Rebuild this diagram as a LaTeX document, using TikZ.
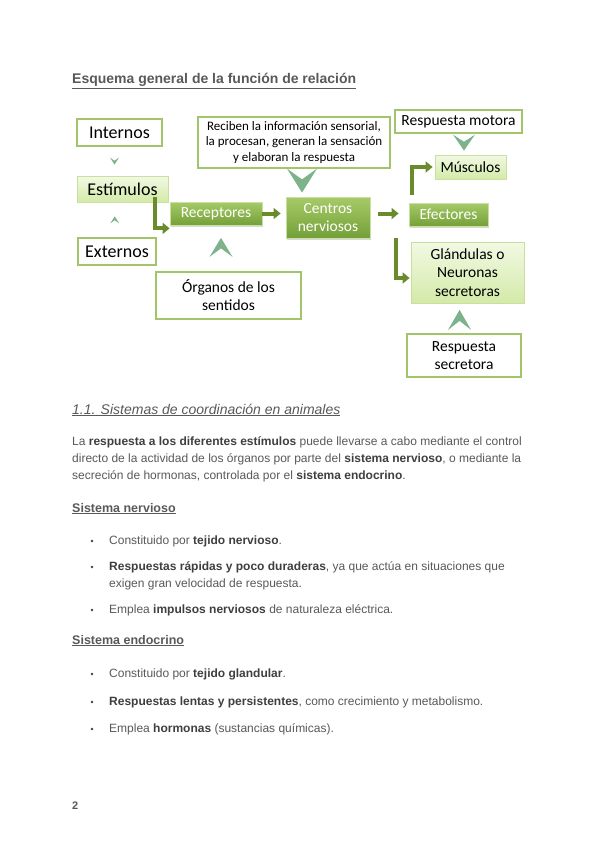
\documentclass[tikz,border=0pt]{standalone}
\usepackage{fontspec}
\setmainfont{Liberation Sans}
\newfontfamily\carlito{Carlito}
\usepackage{xcolor}
\usetikzlibrary{calc, arrows.meta, shadows}

\definecolor{texto}{HTML}{595959}
\definecolor{textoosc}{HTML}{3F3F3F}
\definecolor{bordeverde}{HTML}{A2C46B}
\definecolor{bordeclaro}{HTML}{C9E09F}
\definecolor{verdearriba}{HTML}{A6CA68}
\definecolor{verdeabajo}{HTML}{74A038}
\definecolor{claroarriba}{HTML}{F2F9E4}
\definecolor{claroabajo}{HTML}{D3EAA8}
\definecolor{flechaolivo}{HTML}{6A8B2C}
\definecolor{chevron}{HTML}{7DB38A}

% texto en negrita algo mas oscuro
\newcommand\resalta[1]{\textbf{\color{textoosc}#1}}
% chevrones (centro, ancho, alto)
\newcommand\chevabajo[3]{\fill[chevron, shift={(#1)}] (-#2/2,-#3/2) -- (0,-#3/2+0.45*#3) -- (#2/2,-#3/2) -- (0,#3/2) -- cycle;}
\newcommand\chevarriba[3]{\fill[chevron, shift={(#1)}] (-#2/2,#3/2) -- (0,#3/2-0.45*#3) -- (#2/2,#3/2) -- (0,-#3/2) -- cycle;}

\tikzset{
    cajablanca/.style={draw=bordeverde, line width=1.2pt, fill=white, align=center, inner sep=0pt,
        font=\carlito\fontsize{15.5}{18}\selectfont},
    cajaclara/.style={draw=bordeclaro, line width=0.8pt, top color=claroarriba, bottom color=claroabajo,
        align=center, inner sep=0pt, font=\carlito\fontsize{15.5}{18.3}\selectfont,
        drop shadow={opacity=0.25, shadow xshift=1pt, shadow yshift=-1pt}},
    cajaverde/.style={draw=bordeclaro, line width=0.8pt, top color=verdearriba, bottom color=verdeabajo,
        align=center, inner sep=0pt, text=white, font=\carlito\fontsize{15.5}{18}\selectfont,
        drop shadow={opacity=0.3, shadow xshift=1pt, shadow yshift=-1.5pt}},
    grande/.style={font=\carlito\fontsize{18}{20}\selectfont},
    flecha/.style={draw=flechaolivo, line width=4pt, -{Triangle[length=7pt, width=11pt]}},
    linea/.style={anchor=base west, inner sep=0pt, text=texto, font=\fontsize{12}{14}\selectfont},
    subtitulo/.style={linea, font=\bfseries\fontsize{12.5}{14}\selectfont},
    punto/.style={circle, fill=textoosc, inner sep=0pt, minimum size=2.6pt},
}

\begin{document}
\begin{tikzpicture}[x=1pt, y=-1pt]
    \fill[white] (0,0) rectangle (600,848);
    \useasboundingbox (0,0) rectangle (600,848);

    % Titulo
    \node[linea, font=\bfseries\fontsize{14}{16}\selectfont] (titulo) at (72,84)
        {\underline{Esquema general de la función de relación}};

    % Esquema: estimulos
    \node[cajablanca, grande, minimum width=85pt, minimum height=27pt] (internos) at (119.5,132.5) {Internos};
    \node[cajaclara, grande, minimum width=91pt, minimum height=26pt] (estimulos) at (122.5,189) {Estímulos};
    \node[cajablanca, grande, minimum width=78pt, minimum height=27pt] (externos) at (117,251.5) {Externos};

    % Receptores y centros nerviosos
    \node[cajaverde, minimum width=92pt, minimum height=23pt] (receptores) at (216,213.5) {Receptores};
    \node[cajaverde, minimum width=84pt, minimum height=41pt] (centros) at (328,217.5) {Centros\\nerviosos};
    \node[cajablanca, minimum width=192pt, minimum height=51pt, font=\carlito\fontsize{13}{15.5}\selectfont]
        (reciben) at (294,142.5) {Reciben la información sensorial,\\la procesan, generan la sensación\\y elaboran la respuesta};
    \node[cajablanca, minimum width=145pt, minimum height=47pt] (organos) at (228.5,295.5) {Órganos de los\\sentidos};

    % Efectores
    \node[cajaverde, minimum width=79pt, minimum height=23pt] (efectores) at (448.5,214.5) {Efectores};
    \node[cajablanca, minimum width=127pt, minimum height=23pt] (motora) at (458.5,121.5) {Respuesta motora};
    \node[cajaclara, minimum width=71pt, minimum height=24pt] (musculos) at (470.5,167) {Músculos};
    \node[cajaclara, minimum width=113pt, minimum height=61pt] (glandulas) at (467.5,272.5) {Glándulas o\\Neuronas\\secretoras};
    \node[cajablanca, minimum width=114pt, minimum height=43pt] (secretora) at (464,355.5) {Respuesta\\secretora};

    % Flechas
    \draw[flecha] ([xshift=-13pt, yshift=5pt]estimulos.south east) |- ([yshift=-3pt]receptores.south west);
    \draw[flecha] (receptores.east) -- ($(centros.west |- receptores.east)+(-5,0)$);
    \draw[flecha] ($(centros.east |- efectores.west)+(8,-1)$) -- ($(efectores.west)+(-10,-1)$);
    \draw[flecha] ([xshift=3pt, yshift=8pt]efectores.north west) |- ([xshift=-2pt]musculos.west);
    \draw[flecha] ([xshift=26pt]centros.south east) |- ([xshift=-1pt, yshift=-5.5pt]glandulas.west);

    % Chevrones
    \coordinate (ch1) at ($(internos.south)!.5!(estimulos.north)+(-6.5,0)$);
    \coordinate (ch2) at ($(estimulos.south)!.5!(externos.north)+(-5,0)$);
    \coordinate (ch3) at ($(reciben.south)+(8,12)$);
    \coordinate (ch4) at ($(receptores.south)+(5,22)$);
    \coordinate (ch5) at ($(motora.south)+(5.5,9)$);
    \coordinate (ch6) at ($(glandulas.south)!.55!(secretora.north)+(-6,0)$);
    \chevabajo{ch1}{9}{7}
    \chevarriba{ch2}{9}{7}
    \chevabajo{ch3}{30}{24}
    \chevarriba{ch4}{23}{19}
    \chevabajo{ch5}{22}{16}
    \chevarriba{ch6}{23}{20}

    % Sistemas de coordinacion
    \node[linea, font=\itshape\fontsize{14}{16}\selectfont] (seccion) at (72,414)
        {\underline{1.1. Sistemas de coordinación en animales}};
    \node[linea] (par1) at (72,445) {La \resalta{respuesta a los diferentes estímulos} puede llevarse a cabo mediante el control};
    \node[linea] (par2) at (72,462) {directo de la actividad de los órganos por parte del \resalta{sistema nervioso}, o mediante la};
    \node[linea] (par3) at (72,479) {secreción de hormonas, controlada por el \resalta{sistema endocrino}.};

    % Sistema nervioso
    \node[subtitulo] (nervioso) at (72,512) {\underline{Sistema nervioso}};
    \node[punto] (pn1) at (92,541) {};
    \node[linea] (n1) at (109,544) {Constituido por \resalta{tejido nervioso}.};
    \node[punto] (pn2) at (92,567) {};
    \node[linea] (n2) at (109,570) {\resalta{Respuestas rápidas y poco duraderas}, ya que actúa en situaciones que};
    \node[linea] (n2b) at (109,587) {exigen gran velocidad de respuesta.};
    \node[punto] (pn3) at (92,610) {};
    \node[linea] (n3) at (109,613) {Emplea \resalta{impulsos nerviosos} de naturaleza eléctrica.};

    % Sistema endocrino
    \node[subtitulo] (endocrino) at (72,644) {\underline{Sistema endocrino}};
    \node[punto] (pe1) at (92,674) {};
    \node[linea] (e1) at (109,677) {Constituido por \resalta{tejido glandular}.};
    \node[punto] (pe2) at (92,702) {};
    \node[linea] (e2) at (109,705) {\resalta{Respuestas lentas y persistentes}, como crecimiento y metabolismo.};
    \node[punto] (pe3) at (92,729) {};
    \node[linea] (e3) at (109,732) {Emplea \resalta{hormonas} (sustancias químicas).};

    % Numero de pagina
    \node[subtitulo, font=\bfseries\fontsize{11}{12}\selectfont] (pagina) at (72,809) {2};
\end{tikzpicture}
\end{document}
